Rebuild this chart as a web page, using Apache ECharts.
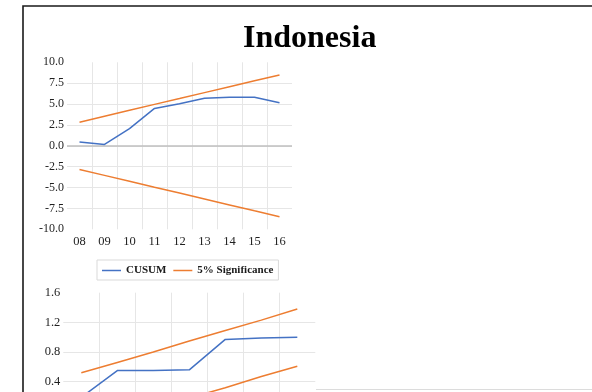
<!DOCTYPE html>
<html>
<head>
<meta charset="utf-8">
<script src="https://cdn.jsdelivr.net/npm/echarts@6/dist/echarts.min.js"></script>
<style>
  html, body { margin: 0; padding: 0; background: #ffffff; }
  #chart { width: 592px; height: 392px; }
</style>
</head>
<body>
<div id="chart"></div>
<script>
// Title
const titleText = 'Indonesia';

// Upper panel: CUSUM test with 5% significance bounds
const cusumYears = ['08', '09', '10', '11', '12', '13', '14', '15', '16'];
const cusumValues = [0.45, 0.17, 2.06, 4.48, 5.04, 5.69, 5.81, 5.81, 5.16];
const cusumUpper = [2.83, 3.54, 4.25, 4.96, 5.66, 6.37, 7.08, 7.79, 8.49];
const cusumLower = [-2.83, -3.54, -4.25, -4.96, -5.66, -6.37, -7.08, -7.79, -8.49];

// Lower panel: CUSUM of squares with 5% significance bounds
const sqYears = ['10', '11', '12', '13', '14', '15', '16'];
const sqValues = [0.19, 0.55, 0.55, 0.56, 0.97, 0.99, 1.00];
const sqUpper = [0.52, 0.66, 0.80, 0.95, 1.09, 1.23, 1.38];
const sqLower = [-0.25, -0.11, 0.04, 0.18, 0.32, 0.47, 0.61];

// Legend labels
const cusumName = 'CUSUM';
const bandName = '5% Significance';

const serif = "'Liberation Serif', 'Times New Roman', serif";
const blue = '#4472C4';
const orange = '#ED7D31';
const gridColor = '#e6e6e6';
const labelColor = '#1f1f1f';

const chart = echarts.init(document.getElementById('chart'), null, { renderer: 'canvas' });

const lineSeries = (name, data, color, xi, yi, extra) => Object.assign({
  name: name,
  type: 'line',
  data: data,
  xAxisIndex: xi,
  yAxisIndex: yi,
  symbol: 'none',
  smooth: false,
  silent: true,
  lineStyle: { color: color, width: 1.5 },
  itemStyle: { color: color },
  z: 3
}, extra || {});

chart.setOption({
  backgroundColor: '#ffffff',
  animation: false,
  title: {
    text: titleText,
    left: 243,
    top: 23,
    padding: 0,
    textStyle: { fontFamily: serif, fontWeight: 'bold', fontSize: 32, color: '#000000' }
  },
  legend: {
    data: [cusumName, bandName],
    left: 97,
    top: 260,
    padding: [5, 5, 4, 5],
    itemGap: 7,
    itemWidth: 19,
    itemHeight: 1.5,
    icon: 'rect',
    borderColor: '#d9d9d9',
    borderWidth: 1,
    backgroundColor: '#ffffff',
    textStyle: { fontFamily: serif, fontWeight: 'bold', fontSize: 11, color: '#1a1a1a' }
  },
  grid: [
    { left: 67, top: 62.3, width: 225, height: 167, outerBoundsMode: 'none', containLabel: false },
    { left: 63.3, top: 292.7, width: 252, height: 148.4, outerBoundsMode: 'none', containLabel: false }
  ],
  xAxis: [
    {
      gridIndex: 0,
      type: 'category',
      data: cusumYears,
      boundaryGap: true,
      axisLine: { show: false, onZero: false },
      axisTick: { show: false },
      axisLabel: { fontFamily: serif, fontSize: 12.5, color: labelColor, margin: 6 },
      splitLine: { show: true, showMinLine: false, showMaxLine: false, lineStyle: { color: gridColor, width: 1 } }
    },
    {
      gridIndex: 1,
      type: 'category',
      data: sqYears,
      boundaryGap: true,
      axisLine: { show: false, onZero: false },
      axisTick: { show: false },
      axisLabel: { fontFamily: serif, fontSize: 12.5, color: labelColor, margin: 6 },
      splitLine: { show: true, showMinLine: false, showMaxLine: false, lineStyle: { color: gridColor, width: 1 } }
    }
  ],
  yAxis: [
    {
      gridIndex: 0,
      type: 'value',
      min: -10,
      max: 10,
      interval: 2.5,
      axisLine: { show: false },
      axisTick: { show: false },
      axisLabel: { fontFamily: serif, fontSize: 12, color: labelColor, margin: 3, formatter: v => v.toFixed(1) },
      splitLine: { show: true, showMinLine: false, showMaxLine: false, lineStyle: { color: gridColor, width: 1 } }
    },
    {
      gridIndex: 1,
      type: 'value',
      min: -0.4,
      max: 1.6,
      interval: 0.4,
      axisLine: { show: false },
      axisTick: { show: false },
      axisLabel: { fontFamily: serif, fontSize: 12.5, color: labelColor, margin: 3, formatter: v => v.toFixed(1) },
      splitLine: { show: true, showMinLine: false, showMaxLine: false, lineStyle: { color: gridColor, width: 1 } }
    }
  ],
  series: [
    lineSeries(cusumName, cusumValues, blue, 0, 0, {
      markLine: {
        silent: true,
        symbol: 'none',
        label: { show: false },
        lineStyle: { color: '#bfbfbf', width: 1.5, type: 'solid' },
        data: [{ yAxis: 0 }],
        z: 1
      }
    }),
    lineSeries(bandName, cusumUpper, orange, 0, 0),
    lineSeries(bandName, cusumLower, orange, 0, 0),
    lineSeries(cusumName, sqValues, blue, 1, 1),
    lineSeries(bandName, sqUpper, orange, 1, 1),
    lineSeries(bandName, sqLower, orange, 1, 1)
  ],
  graphic: [
    {
      // outer frame (top and left edges fall inside the view)
      type: 'rect',
      silent: true,
      shape: { x: 23, y: 6, width: 640, height: 440 },
      style: { fill: null, stroke: '#1a1a1a', lineWidth: 1.6 },
      z: 10
    },
    {
      type: 'line',
      silent: true,
      shape: { x1: 316, y1: 389.5, x2: 592, y2: 389.5 },
      style: { stroke: '#dcdcdc', lineWidth: 1 },
      z: 10
    }
  ]
});
</script>
</body>
</html>
